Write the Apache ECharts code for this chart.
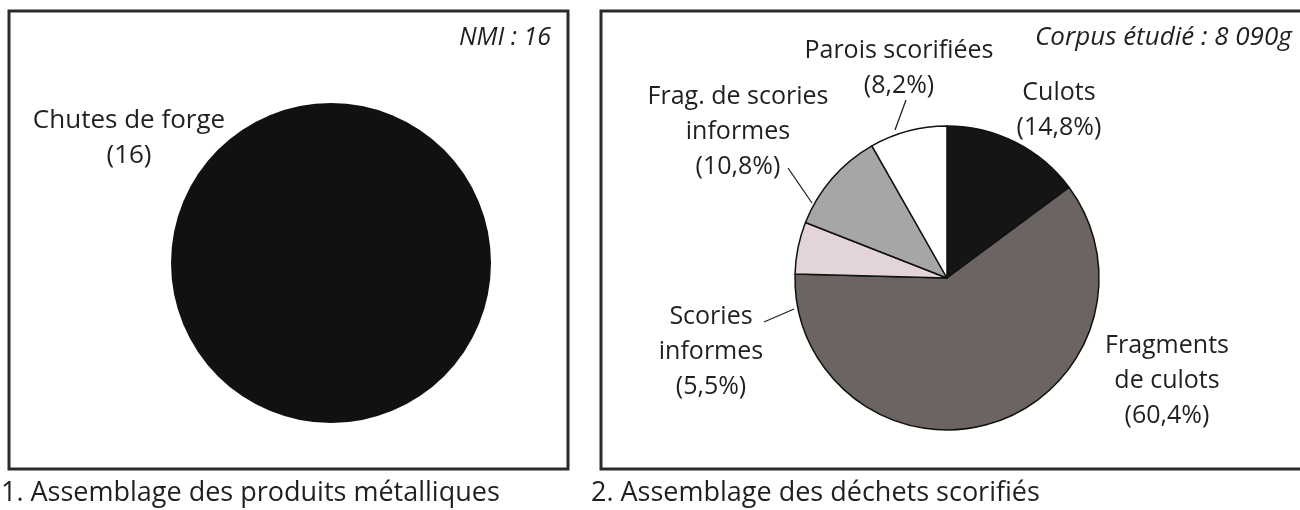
<!DOCTYPE html>
<html>
<head>
<meta charset="utf-8">
<script src="https://cdn.jsdelivr.net/npm/echarts@6/dist/echarts.min.js"></script>
<style>
  html, body { margin: 0; padding: 0; background: #fffffd; }
  #chart { width: 1300px; height: 510px; }
</style>
</head>
<body>
<div id="chart"></div>
<script>
// 1. produits métalliques (NMI)
const metalNames = ['Chutes de forge']
const metalValues = [16]

// 2. déchets scorifiés (% du poids)
const slagNames = ['Culots', 'Fragments\nde culots', 'Scories\ninformes', 'Frag. de scories\ninformes', 'Parois scorifiées']
const slagValues = [14.8, 60.4, 5.5, 10.8, 8.2]

const FONT = 'Open Sans'
const TXT = '#231f20'

// couleurs des secteurs
const slagColors = ['#151515', '#6b6462', '#e2d4d8', '#a6a6a6', '#ffffff']
// position des étiquettes (centre du bloc de texte)
const slagLabelPos = [[1059, 110], [1167, 381], [711, 352], [738, 132], [899, 68]]

// petits traits de rappel entre étiquette et secteur
const leaders = [
  [[906, 100], [895, 130]],
  [[788, 168], [812, 203]],
  [[764, 322], [794, 309]]
]

const chart = echarts.init(document.getElementById('chart'))

const option = {
  backgroundColor: '#fffffd',
  animation: false,
  textStyle: { fontFamily: FONT },
  title: [
    { text: 'NMI : 16', right: 1300 - 556, top: 20, textStyle: { fontFamily: FONT, fontStyle: 'italic', fontWeight: 'normal', fontSize: 25, color: TXT } },
    { text: 'Corpus étudié : 8 090g', left: 1030, top: 20, textStyle: { fontFamily: FONT, fontStyle: 'italic', fontWeight: 'normal', fontSize: 26, color: TXT } },
    { text: '1. Assemblage des produits métalliques', left: -4, top: 475, textStyle: { fontFamily: FONT, fontWeight: 'normal', fontSize: 27, color: TXT } },
    { text: '2. Assemblage des déchets scorifiés', left: 586, top: 475, textStyle: { fontFamily: FONT, fontWeight: 'normal', fontSize: 27, color: TXT } }
  ],
  graphic: [
    { type: 'rect', shape: { x: 9, y: 11, width: 559, height: 458 }, style: { fill: 'none', stroke: '#2b2b2b', lineWidth: 3 } },
    { type: 'rect', shape: { x: 601, y: 11, width: 720, height: 458 }, style: { fill: 'none', stroke: '#2b2b2b', lineWidth: 3 } }
  ].concat(leaders.map(l => ({
    type: 'line',
    z: 10,
    shape: { x1: l[0][0], y1: l[0][1], x2: l[1][0], y2: l[1][1] },
    style: { stroke: '#222', lineWidth: 1.3 }
  }))),
  series: [
    {
      type: 'pie',
      center: [331, 263],
      radius: 160,
      silent: true,
      data: metalNames.map((n, i) => ({ name: n, value: metalValues[i], itemStyle: { color: '#111111' } })),
      label: {
        show: true,
        formatter: p => p.name + '\n(' + p.value + ')',
        fontFamily: FONT,
        fontSize: 26,
        lineHeight: 35,
        color: TXT
      },
      labelLine: { show: false },
      labelLayout: () => ({ x: 129, y: 138, align: 'center', verticalAlign: 'middle' })
    },
    {
      type: 'pie',
      center: [947, 278],
      radius: 152,
      startAngle: 90,
      silent: true,
      data: slagNames.map((n, i) => ({
        name: n,
        value: slagValues[i],
        itemStyle: { color: slagColors[i] }
      })),
      itemStyle: { borderColor: '#111', borderWidth: 1.5 },
      label: {
        show: true,
        position: 'outside',
        formatter: p => p.name + '\n(' + String(p.value).replace('.', ',') + '%)',
        fontFamily: FONT,
        fontSize: 25,
        lineHeight: 35,
        color: TXT
      },
      labelLine: { show: false },
      labelLayout: p => ({
        x: slagLabelPos[p.dataIndex][0],
        y: slagLabelPos[p.dataIndex][1],
        align: 'center',
        verticalAlign: 'middle'
      })
    }
  ]
}

chart.setOption(option)
</script>
</body>
</html>
